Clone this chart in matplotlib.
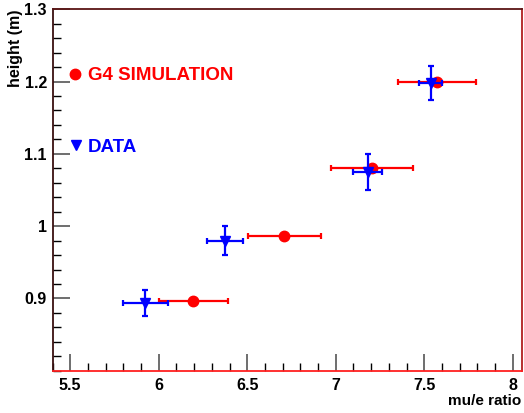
import matplotlib
matplotlib.use("Agg")
import matplotlib.pyplot as plt
from matplotlib.ticker import MultipleLocator, FixedLocator

plt.rcParams['font.family'] = ['Liberation Sans', 'DejaVu Sans']

# G4 simulation (red)
sim_x = [6.195, 6.71, 7.205, 7.57]
sim_y = [0.896, 0.986, 1.081, 1.200]
sim_xerr = [0.195, 0.205, 0.23, 0.22]

# Data (blue)
dat_x = [5.925, 6.372, 7.18, 7.535]
dat_y = [0.894, 0.980, 1.075, 1.198]
dat_xerr = [0.127, 0.102, 0.082, 0.066]
dat_yerr = [0.018, 0.020, 0.025, 0.023]

xticks = [5.5, 6, 6.5, 7, 7.5, 8]
xticklabels = ['5.5', '6', '6.5', '7', '7.5', '8']
yticks = [0.9, 1.0, 1.1, 1.2, 1.3]
yticklabels = ['0.9', '1', '1.1', '1.2', '1.3']

fig = plt.figure(figsize=(5.24, 4.13), dpi=100)
ax = fig.add_axes([0.1002, 0.1024, 0.8954, 0.8751])

ax.errorbar(sim_x, sim_y, xerr=sim_xerr, fmt='o', color='#ff0000', ecolor='#ff0000',
            markersize=7.5, elinewidth=1.6, capsize=2, capthick=1.6, zorder=3)
ax.errorbar(dat_x, dat_y, xerr=dat_xerr, yerr=dat_yerr, fmt='v', color='#0000ff',
            ecolor='#0000ff', markersize=7.5, elinewidth=1.6, capsize=2, capthick=1.6, zorder=4)

ax.set_xlim(5.4, 8.05)
ax.set_ylim(0.8, 1.3)
ax.xaxis.set_major_locator(FixedLocator(xticks))
ax.set_xticklabels(xticklabels)
ax.yaxis.set_major_locator(FixedLocator(yticks))
ax.set_yticklabels(yticklabels)
ax.xaxis.set_minor_locator(MultipleLocator(0.1))
ax.yaxis.set_minor_locator(MultipleLocator(0.02))

ax.tick_params(axis='both', which='major', direction='in', length=12, width=1.2,
               color='#555555', labelsize=11.5)
ax.tick_params(axis='x', which='major', pad=5)
ax.tick_params(axis='y', which='major', pad=4)
ax.tick_params(axis='both', which='minor', direction='in', length=6, width=1.0, color='black')
ax.tick_params(top=False, right=False, which='both')
for lab in ax.get_xticklabels() + ax.get_yticklabels():
    lab.set_fontweight('bold')

ax.spines['bottom'].set_color('#ff2020')
ax.spines['left'].set_color('#3a1010')
ax.spines['top'].set_color('#5a1515')
ax.spines['right'].set_color('#b02020')
for s in ax.spines.values():
    s.set_linewidth(1.3)

fig.text(0.030, 0.978, 'height (m)', rotation=90, ha='center', va='top',
         fontsize=11.5, fontweight='bold')
fig.text(0.995, 0.012, 'mu/e ratio', ha='right', va='bottom',
         fontsize=11, fontweight='bold')

# Legend
ax.plot([0.048], [0.822], 'o', color='#ff0000', markersize=7.5, transform=ax.transAxes)
ax.text(0.0757, 0.818, 'G4 SIMULATION', color='#ff0000', fontsize=13.5,
        fontweight='bold', va='center', ha='left', transform=ax.transAxes)
ax.plot([0.050], [0.624], 'v', color='#0000ff', markersize=6.5, transform=ax.transAxes)
ax.text(0.0757, 0.618, 'DATA', color='#0000ff', fontsize=13.5,
        fontweight='bold', va='center', ha='left', transform=ax.transAxes)

fig.savefig('out.png', dpi=100)
